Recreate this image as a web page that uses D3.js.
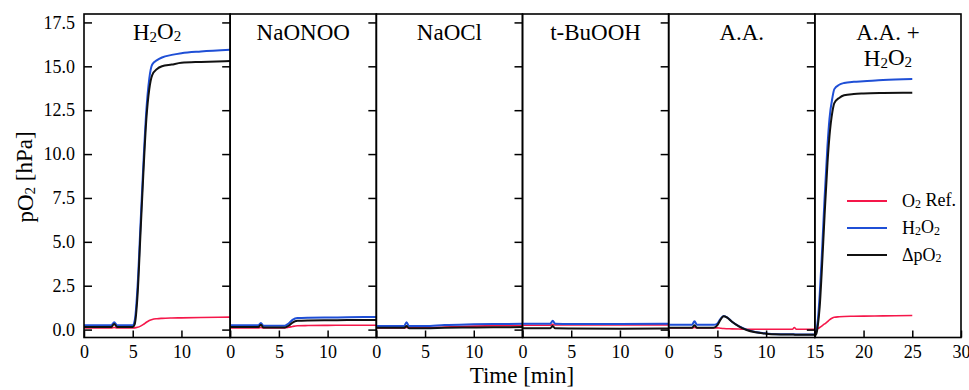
<!DOCTYPE html>
<html><head><meta charset="utf-8">
<script src="https://cdn.jsdelivr.net/npm/d3@7"></script>
<style>body{margin:0;background:#fff}svg{display:block}</style>
</head><body><svg id="c" width="969" height="390"></svg>
<script>
// ---- data ----
const panelTitles = [["H₂O₂"],["NaONOO"],["NaOCl"],["t-BuOOH"],["A.A."],["A.A. +","H₂O₂"]];
const xDomains = [[0,15],[0,15],[0,15],[0,15],[0,15],[15,30]];
const xTickValues = [[0,5,10],[0,5,10],[0,5,10],[0,5,10],[0,5,10],[15,20,25,30]];
const yTickValues = [0,2.5,5,7.5,10,12.5,15,17.5];
const seriesNames = ["O₂ Ref.","H₂O₂","ΔpO₂"];
const seriesColors = ["#f5174a","#1f4fd6","#111111"];

// panel 1: H2O2
const t1     = [0,2.8,3.1,3.4,5.0,5.2,5.5,5.8,6.1,6.4,6.7,7.0,7.5,8,9,10,12,15];
const ref1   = [0.1,0.1,0.12,0.1,0.1,0.1,0.13,0.2,0.3,0.42,0.52,0.58,0.62,0.64,0.66,0.67,0.69,0.71];
const h2o2_1 = [0.25,0.25,0.42,0.25,0.25,0.5,2.5,6,9.5,12.5,14.3,15.1,15.35,15.5,15.65,15.75,15.85,15.95];
const dpo2_1 = [0.15,0.15,0.32,0.15,0.15,0.3,2.0,5.5,9,12,13.7,14.5,14.85,15.0,15.1,15.2,15.25,15.3];
// panel 2: NaONOO
const t2     = [0,2.9,3.15,3.4,5.6,6.0,6.4,6.9,8,10,12,15];
const ref2   = [0.1,0.1,0.12,0.1,0.1,0.13,0.18,0.22,0.23,0.24,0.25,0.25];
const h2o2_2 = [0.25,0.25,0.38,0.22,0.22,0.35,0.55,0.66,0.68,0.69,0.7,0.72];
const dpo2_2 = [0.15,0.15,0.28,0.12,0.12,0.22,0.4,0.5,0.52,0.53,0.54,0.55];
// panel 3: NaOCl
const t3     = [0,2.85,3.1,3.35,5,7,10,12,15];
const ref3   = [0.1,0.1,0.12,0.1,0.1,0.15,0.2,0.22,0.23];
const h2o2_3 = [0.2,0.2,0.42,0.2,0.2,0.26,0.3,0.32,0.33];
const dpo2_3 = [0.1,0.1,0.2,0.08,0.08,0.1,0.12,0.13,0.15];
// panel 4: t-BuOOH
const t4     = [0,2.85,3.1,3.35,5,10,15];
const ref4   = [0.25,0.25,0.3,0.26,0.26,0.27,0.27];
const h2o2_4 = [0.34,0.34,0.5,0.33,0.32,0.32,0.33];
const dpo2_4 = [0.08,0.08,0.2,0.07,0.06,0.05,0.06];
// panel 5: A.A.
const t5     = [0,2.4,2.65,2.9,4.6,5.0,5.3,5.65,6.0,6.5,7.2,8.0,8.9,10,11,12,12.7,12.9,13.1,14,15];
const ref5   = [0.1,0.1,0.12,0.1,0.1,0.1,0.08,0.06,0.05,0.04,0.03,0.02,0.02,0.02,0.02,0.02,0.02,0.12,0.02,0.02,0.02];
const h2o2_5 = [0.27,0.27,0.48,0.27,0.27,0.35,0.6,0.78,0.7,0.45,0.2,0.0,-0.14,-0.22,-0.26,-0.27,-0.27,-0.27,-0.28,-0.28,-0.28];
const dpo2_5 = [0.1,0.1,0.25,0.1,0.1,0.25,0.55,0.76,0.68,0.45,0.19,-0.02,-0.15,-0.23,-0.27,-0.28,-0.28,-0.29,-0.29,-0.3,-0.3];
// panel 6: A.A. + H2O2
const t6     = [15,15.15,15.3,15.5,15.7,16.0,16.3,16.5,16.8,17.0,17.5,18,19,20,22,25];
const ref6   = [0.0,0.02,0.06,0.12,0.2,0.32,0.45,0.55,0.66,0.7,0.73,0.75,0.76,0.77,0.78,0.8];
const h2o2_6 = [-0.3,-0.1,0.5,2,4,7.5,10.5,12,13.2,13.7,13.95,14.05,14.12,14.15,14.22,14.27];
const dpo2_6 = [-0.35,-0.25,0.2,1.3,3.2,6.5,9.5,11,12.4,12.9,13.2,13.35,13.42,13.45,13.48,13.5];

const times = [t1,t2,t3,t4,t5,t6];
const refs = [ref1,ref2,ref3,ref4,ref5,ref6];
const h2o2s = [h2o2_1,h2o2_2,h2o2_3,h2o2_4,h2o2_5,h2o2_6];
const dpo2s = [dpo2_1,dpo2_2,dpo2_3,dpo2_4,dpo2_5,dpo2_6];

// ---- layout ----
const FONT = "'Liberation Serif', 'Times New Roman', Tinos, 'DejaVu Serif', 'Noto Serif', serif";
const svg = d3.select("#c");
const L = 84, R = 961, T = 14, B = 337.5;
const nP = 6, pw = (R - L) / nP;
const y = d3.scaleLinear().domain([-0.45, 17.98]).range([B, T]);

function subText(sel, str, small) {
  const parts = str.split(/(₂)/);
  let lowered = false;
  parts.forEach(p => {
    if (p === "") return;
    if (p === "₂") {
      sel.append("tspan").attr("font-size", small).attr("dy", lowered ? 0 : "0.12em").text("2");
      lowered = true;
    } else {
      sel.append("tspan").attr("dy", lowered ? "-0.12em" : 0).text(p);
      lowered = false;
    }
  });
}

for (let i = 0; i < nP; i++) {
  const x0 = L + i * pw;
  const x = d3.scaleLinear().domain(xDomains[i]).range([x0, x0 + pw]);
  const g = svg.append("g");

  const t = times[i];
  const sets = [refs[i], h2o2s[i], dpo2s[i]];
  const widths = [1.6, 2, 2];
  sets.forEach((vals, k) => {
    const line = d3.line().x((d, j) => x(t[j])).y(d => y(d)).curve(d3.curveMonotoneX);
    g.append("path").attr("d", line(vals)).attr("fill", "none")
      .attr("stroke", seriesColors[k]).attr("stroke-width", widths[k]).attr("stroke-linejoin", "round");
  });

  const xa = d3.axisBottom(x).tickValues(xTickValues[i]).tickSize(-7).tickPadding(8).tickFormat(d3.format("d"));
  const gx = svg.append("g").attr("transform", `translate(0,${B})`).call(xa)
    .attr("font-family", FONT).attr("font-size", 18);
  gx.select(".domain").remove();
  gx.selectAll("line").attr("stroke", "#000").attr("stroke-width", 1.5);
  gx.selectAll("text").attr("fill", "#000");

  if (i === 0) {
    const ya = d3.axisLeft(y).tickValues(yTickValues).tickSize(-8).tickPadding(9).tickFormat(d3.format(".1f"));
    const gy = svg.append("g").attr("transform", `translate(${x0},0)`).call(ya)
      .attr("font-family", FONT).attr("font-size", 18);
    gy.select(".domain").remove();
    gy.selectAll("line").attr("stroke", "#000").attr("stroke-width", 1.5);
    gy.selectAll("text").attr("fill", "#000");
  } else {
    const ya = d3.axisLeft(y).tickValues(yTickValues).tickSize(8).tickFormat("");
    const gy = svg.append("g").attr("transform", `translate(${x0},0)`).call(ya);
    gy.select(".domain").remove();
    gy.selectAll("line").attr("stroke", "#000").attr("stroke-width", 1.5);
  }

  svg.append("rect").attr("x", x0).attr("y", T).attr("width", pw).attr("height", B - T)
    .attr("fill", "none").attr("stroke", "#000").attr("stroke-width", 1.6);

  panelTitles[i].forEach((ln, li) => {
    const tx = svg.append("text").attr("x", x0 + pw / 2).attr("y", 40 + li * 26)
      .attr("text-anchor", "middle").attr("font-size", 23).attr("font-family", FONT);
    subText(tx, ln, 15);
  });
}

// legend in last panel
const legX = 847, legY = [201, 228, 255];
seriesNames.forEach((nm, k) => {
  svg.append("line").attr("x1", legX).attr("x2", legX + 40).attr("y1", legY[k]).attr("y2", legY[k])
    .attr("stroke", seriesColors[k]).attr("stroke-width", 2);
  const tx = svg.append("text").attr("x", legX + 55).attr("y", legY[k] + 6).attr("font-size", 18).attr("font-family", FONT);
  subText(tx, nm, 12);
});

// axis labels
svg.append("text").attr("x", 522).attr("y", 383).attr("text-anchor", "middle")
  .attr("font-size", 23).attr("font-family", FONT).text("Time [min]");
const yl = svg.append("text").attr("transform", "translate(33,177) rotate(-90)").attr("text-anchor", "middle")
  .attr("font-size", 23).attr("font-family", FONT);
subText(yl, "pO₂ [hPa]", 15);
</script></body></html>
